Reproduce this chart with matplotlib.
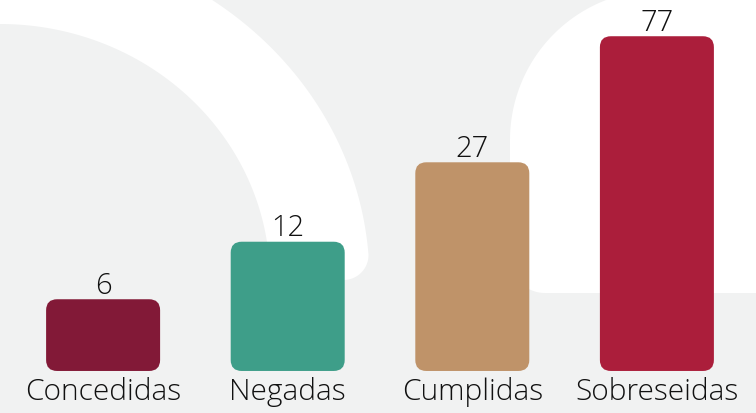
import numpy as np
import matplotlib
matplotlib.use("Agg")
import matplotlib.pyplot as plt
from matplotlib.patches import FancyBboxPatch, Polygon

# ---- data ----
categories = ["Concedidas", "Negadas", "Cumplidas", "Sobreseidas"]
values = [6, 12, 27, 77]
colors = ["#821937", "#3e9e89", "#bf9369", "#ab1e3b"]

W, H = 756, 413
BG = "#f1f2f2"
FONT = "Open Sans"
WEIGHT = "light"

fig = plt.figure(figsize=(W / 100, H / 100), dpi=100)
fig.patch.set_facecolor(BG)

# background / pixel axes
bg = fig.add_axes([0, 0, 1, 1], zorder=0)
bg.set_xlim(0, W)
bg.set_ylim(H, 0)
bg.axis("off")
bg.set_facecolor(BG)

# decorative white band (left): elliptical inner & outer edges
cx, cy = 0.0, 280.0
ai, bi = 270.0, 256.0   # inner ellipse
ao, bo = 369.5, 342.0   # outer ellipse
y_end = 255.0
t_top = np.arcsin((cy - 0) / bo)
t_end = np.arcsin((cy - y_end) / bo)
to = np.linspace(t_top, t_end, 120)
outer = np.column_stack([cx + ao * np.cos(to), cy - bo * np.sin(to)])
c_cap = np.array([outer[-1, 0] - 25, outer[-1, 1]])
tc = np.linspace(0, -np.pi * 0.6, 30)
cap = np.column_stack([c_cap[0] + 25 * np.cos(tc), c_cap[1] - 25 * np.sin(tc)])
ti_end = np.arcsin((cy - 262) / bi)
ti = np.linspace(ti_end, np.pi / 2, 120)
inner = np.column_stack([cx + ai * np.cos(ti), cy - bi * np.sin(ti)])
band = np.vstack([[(0, 0)], outer, cap, [(300, 292)], inner, [(0, 0)]])
bg.add_patch(Polygon(band, closed=True, facecolor="white", edgecolor="none", zorder=1))

# decorative white rounded shape (right)
R1, cx1, cy1 = 150, 660, 140
R2, cx2, cy2 = 35, 545, 258
th1 = np.linspace(np.arctan2(-cy1, -np.sqrt(R1 ** 2 - cy1 ** 2)), -np.pi, 60)
arc1 = np.column_stack([cx1 + R1 * np.cos(th1), cy1 + R1 * np.sin(th1)])
th2 = np.linspace(np.pi, np.pi / 2, 30)
arc2 = np.column_stack([cx2 + R2 * np.cos(th2), cy2 + R2 * np.sin(th2)])
rshape = np.vstack([[(W, 0)], arc1, arc2, [(W, cy2 + R2)]])
bg.add_patch(Polygon(rshape, closed=True, facecolor="white", edgecolor="none", zorder=1))

# main data axes with compressive scale
ax = fig.add_axes([0, 0, 1, 1], zorder=2)
ax.patch.set_alpha(0)
p = 0.22
ax.set_yscale("function", functions=(lambda v: np.power(np.clip(v, 1e-9, None), p),
                                     lambda u: np.power(np.clip(u, 1e-9, None), 1 / p)))
ax.set_ylim(1, 100)
step = 184.6
x0px = 103.1
ax.set_xlim(-x0px / step, (W - x0px) / step)
ax.axis("off")

baseline = 2.11
bw = 114 / step
x = np.arange(len(categories))
rad = 11
for xi, v, c in zip(x, values, colors):
    (xa, yb) = ax.transData.transform((xi - bw / 2, baseline))
    (xb, yt) = ax.transData.transform((xi + bw / 2, v))
    py_b, py_t = H - yb, H - yt
    bg.add_patch(FancyBboxPatch((xa + rad, py_t + rad), (xb - xa) - 2 * rad, (py_b - py_t) - 2 * rad,
                                boxstyle=f"round,pad={rad}", facecolor=c, edgecolor="none", zorder=3))
    ax.annotate(str(v), (xi, v), xytext=(0, 5.5 * 72 / 100), textcoords="offset points",
                ha="center", va="baseline", fontsize=21, family=FONT, fontweight=WEIGHT,
                color="#111111", zorder=5)

ytxt = (H - 400) / H
for xi, lab in zip(x, categories):
    ax.text(xi, ytxt, lab, transform=ax.get_xaxis_transform(), ha="center", va="baseline",
            fontsize=21.5, family=FONT, fontweight=WEIGHT, color="#111111", zorder=5)

fig.savefig("out.png", dpi=100, facecolor=BG)
